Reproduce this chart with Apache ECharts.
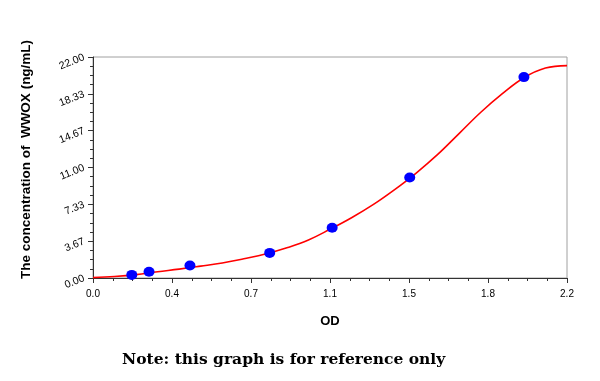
<!DOCTYPE html>
<html>
<head>
<meta charset="utf-8">
<script src="https://cdn.jsdelivr.net/npm/echarts@6/dist/echarts.min.js"></script>
<style>html,body{margin:0;padding:0;background:#fff;}#c{width:600px;height:381px;}</style>
</head>
<body>
<div id="c"></div>
<script>
// Standard points (OD, concentration ng/mL)
const pointOD = [0.18, 0.26, 0.45, 0.82, 1.11, 1.47, 2.0];
const pointConc = [0.31, 0.63, 1.25, 2.5, 5, 10, 20];
// Fitted curve
const curveOD = [0.0, 0.1, 0.2, 0.3, 0.4, 0.5, 0.6, 0.7, 0.8, 0.9, 1.0, 1.1, 1.2, 1.3, 1.4, 1.5, 1.6, 1.7, 1.8, 1.9, 2.0, 2.1, 2.2];
const curveConc = [0.04, 0.15, 0.34, 0.63, 0.88, 1.18, 1.5, 1.92, 2.38, 3.0, 3.78, 4.85, 6.0, 7.3, 8.8, 10.45, 12.3, 14.4, 16.5, 18.35, 19.94, 20.9, 21.14];
const xTickLabels = ['0.0', '0.4', '0.7', '1.1', '1.5', '1.8', '2.2'];
const yTickLabels = ['0.00', '3.67', '7.33', '11.00', '14.67', '18.33', '22.00'];

const xMax = 2.2, yMax = 22;
const chart = echarts.init(document.getElementById('c'), null, {renderer: 'canvas'});
const xStep = xMax / 6, yStep = yMax / 6;
chart.setOption({
  animation: false,
  backgroundColor: '#ffffff',
  grid: {left: 93, right: 33, top: 57, bottom: 103, show: true, borderColor: '#a0a0a0', borderWidth: 1, backgroundColor: 'transparent'},
  title: {
    text: 'Note: this graph is for reference only',
    left: 117, top: 347,
    textStyle: {fontFamily: 'DejaVu Serif', fontWeight: 'bold', fontSize: 15.5, color: '#000'}
  },
  xAxis: {
    type: 'value', min: 0, max: xMax, interval: xStep,
    name: 'OD', nameLocation: 'middle', nameGap: 37,
    nameTextStyle: {fontFamily: 'Liberation Sans', fontWeight: 'bold', fontSize: 13, color: '#000'},
    axisLine: {lineStyle: {color: '#333', width: 1}},
    axisTick: {show: true, length: 5, lineStyle: {color: '#333'}},
    minorTick: {show: true, splitNumber: 4, length: 3, lineStyle: {color: '#333'}},
    splitLine: {show: false},
    axisLabel: {
      fontFamily: 'Liberation Sans', fontSize: 10, color: '#000', margin: 11,
      formatter: function (v) { return xTickLabels[Math.round(v / xStep)]; }
    }
  },
  yAxis: {
    type: 'value', min: 0, max: yMax, interval: yStep,
    name: 'The concentration of  WWOX (ng/mL)', nameLocation: 'middle', nameGap: 60,
    nameTextStyle: {fontFamily: 'Liberation Sans', fontWeight: 'bold', fontSize: 13.5, color: '#000', padding: [0, 0, 0, 16]},
    axisLine: {show: true, lineStyle: {color: '#333', width: 1}},
    axisTick: {show: true, length: 5, lineStyle: {color: '#333'}},
    minorTick: {show: true, splitNumber: 4, length: 3, lineStyle: {color: '#333'}},
    splitLine: {show: false},
    axisLabel: {
      fontFamily: 'Liberation Sans', fontSize: 10.5, color: '#000', rotate: 22, margin: 9,
      formatter: function (v) { return yTickLabels[Math.round(v / yStep)]; }
    }
  },
  series: [
    {
      type: 'line', smooth: 0.4, showSymbol: false, symbol: 'none',
      data: curveOD.map((x, i) => [x, curveConc[i]]),
      lineStyle: {color: '#ff0000', width: 1.6}, z: 2
    },
    {
      type: 'scatter', symbol: 'circle', symbolSize: [11, 10],
      data: pointOD.map((x, i) => [x, pointConc[i]]),
      itemStyle: {color: '#0000ff', opacity: 1}, z: 3
    }
  ]
});
</script>
</body>
</html>
